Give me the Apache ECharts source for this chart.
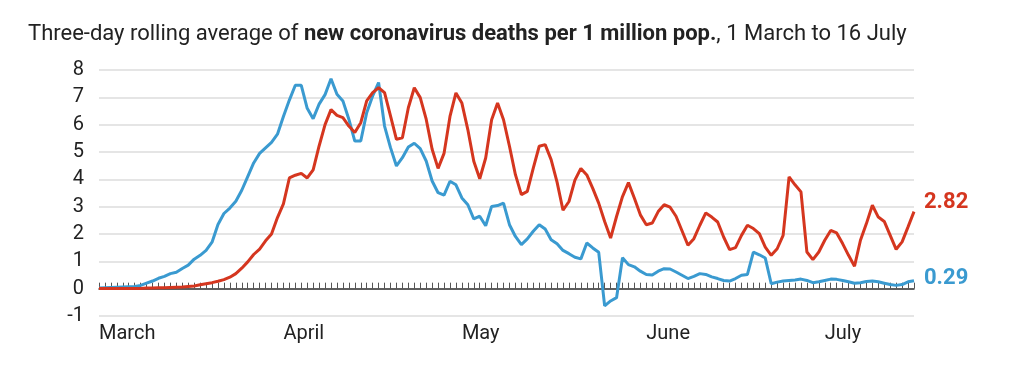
<!DOCTYPE html>
<html>
<head>
<meta charset="utf-8">
<script src="https://cdn.jsdelivr.net/npm/echarts@6/dist/echarts.min.js"></script>
<style>
html,body{margin:0;padding:0;background:#fff;}
#chart{width:1024px;height:373px;}
</style>
</head>
<body>
<div id="chart"></div>
<script>
// Days from 1 March to 16 July
const startDate = [2020, 2, 1];
const dayCount = 138;
const monthLabels = { 0: 'March', 31: 'April', 61: 'May', 92: 'June', 122: 'July' };

const redSeries = [
  0.01, 0.01, 0.01, 0.01, 0.01, 0.01, 0.01, 0.01, 0.02, 0.02,
  0.03, 0.03, 0.04, 0.05, 0.06, 0.08, 0.10, 0.14, 0.18, 0.22,
  0.27, 0.33, 0.42, 0.55, 0.75, 0.98, 1.25, 1.45, 1.75, 2.00,
  2.60, 3.10, 4.05, 4.15, 4.22, 4.05, 4.35, 5.22, 6.00, 6.55,
  6.34, 6.26, 5.95, 5.71, 6.07, 6.87, 7.17, 7.35, 7.17, 6.32,
  5.46, 5.52, 6.62, 7.35, 6.99, 6.20, 5.10, 4.40, 4.95, 6.30,
  7.16, 6.79, 5.82, 4.66, 4.02, 4.78, 6.18, 6.79, 6.18, 5.21,
  4.17, 3.44, 3.56, 4.41, 5.21, 5.27, 4.72, 3.90, 2.87, 3.19,
  3.97, 4.40, 4.16, 3.67, 3.13, 2.46, 1.85, 2.64, 3.37, 3.88,
  3.31, 2.70, 2.34, 2.40, 2.82, 3.07, 2.98, 2.65, 2.12, 1.59,
  1.83, 2.32, 2.77, 2.62, 2.44, 1.89, 1.43, 1.50, 1.95, 2.32,
  2.20, 2.01, 1.52, 1.22, 1.46, 1.95, 4.09, 3.80, 3.54, 1.34,
  1.06, 1.34, 1.77, 2.13, 2.04, 1.65, 1.22, 0.82, 1.77, 2.38,
  3.05, 2.62, 2.46, 1.95, 1.44, 1.71, 2.26, 2.82
];

const blueSeries = [
  0.02, 0.03, 0.04, 0.05, 0.06, 0.07, 0.08, 0.12, 0.20, 0.28,
  0.38, 0.45, 0.55, 0.60, 0.74, 0.86, 1.08, 1.22, 1.40, 1.70,
  2.35, 2.75, 2.95, 3.20, 3.60, 4.10, 4.60, 4.95, 5.15, 5.35,
  5.65, 6.30, 6.90, 7.44, 7.44, 6.60, 6.22, 6.75, 7.10, 7.68,
  7.11, 6.87, 6.20, 5.40, 5.40, 6.44, 7.05, 7.54, 5.95, 5.16,
  4.49, 4.79, 5.18, 5.32, 5.12, 4.67, 3.94, 3.51, 3.42, 3.93,
  3.80, 3.32, 3.07, 2.55, 2.65, 2.30, 3.01, 3.04, 3.13, 2.34,
  1.91, 1.61, 1.82, 2.10, 2.34, 2.18, 1.79, 1.64, 1.40, 1.28,
  1.15, 1.09, 1.67, 1.49, 1.33, -0.63, -0.45, -0.33, 1.13, 0.88,
  0.80, 0.64, 0.52, 0.50, 0.64, 0.73, 0.72, 0.61, 0.49, 0.37,
  0.45, 0.55, 0.52, 0.43, 0.37, 0.30, 0.28, 0.37, 0.49, 0.52,
  1.34, 1.24, 1.12, 0.18, 0.24, 0.28, 0.30, 0.32, 0.35, 0.30,
  0.22, 0.25, 0.30, 0.35, 0.34, 0.30, 0.25, 0.20, 0.22, 0.26,
  0.28, 0.25, 0.20, 0.15, 0.12, 0.15, 0.25, 0.29
];

const yTicks = { min: -1, max: 8, interval: 1 };
const redColor = '#d5361f';
const blueColor = '#3a9ad0';

const categories = [];
for (let i = 0; i < dayCount; i++) {
  const d = new Date(startDate[0], startDate[1], startDate[2] + i);
  categories.push(d.getFullYear() + '-' + (d.getMonth() + 1) + '-' + d.getDate());
}

const fontFamily = 'Roboto, "Liberation Sans", sans-serif';
const chart = echarts.init(document.getElementById('chart'), null, { renderer: 'canvas' });
chart.setOption({
  animation: false,
  backgroundColor: '#fff',
  textStyle: { fontFamily: fontFamily },
  title: {
    left: 23, top: 18,
    text: '{n|Three-day rolling average of }{b|new coronavirus deaths per 1 million pop.}{n|, 1 March to 16 July}',
    textStyle: {
      fontWeight: 'normal',
      rich: {
        n: { fontSize: 22, color: '#222', fontWeight: 'normal', fontFamily: fontFamily },
        b: { fontSize: 22, color: '#222', fontWeight: 'bold', fontFamily: fontFamily }
      }
    }
  },
  grid: { left: 99, right: 110, top: 70, bottom: 57, containLabel: false },
  xAxis: {
    type: 'category',
    data: categories,
    boundaryGap: false,
    axisLine: { onZero: true, lineStyle: { color: '#333', width: 1.5 } },
    axisTick: { show: true, inside: true, length: 6, interval: 0, lineStyle: { color: '#555', width: 1 } },
    axisLabel: {
      interval: 0,
      margin: 8,
      align: 'left',
      fontSize: 20,
      color: '#222',
      formatter: function (v, idx) { return monthLabels[idx] !== undefined ? monthLabels[idx] : ''; }
    },
    splitLine: { show: false }
  },
  yAxis: {
    type: 'value',
    min: yTicks.min, max: yTicks.max, interval: yTicks.interval,
    axisLine: { show: false },
    axisTick: { show: false },
    axisLabel: { fontSize: 20, color: '#222', margin: 15 },
    splitLine: { lineStyle: { color: '#dcdcdc', width: 1.5 } }
  },
  series: [
    {
      name: 'red', type: 'line', data: redSeries, showSymbol: false, symbol: 'none',
      lineStyle: { color: redColor, width: 3 }, itemStyle: { color: redColor },
      endLabel: { show: true, formatter: function (p) { return p.value.toFixed(2); }, color: redColor, fontSize: 22, fontWeight: 'bold', distance: 10, offset: [0, -9] },
      z: 3
    },
    {
      name: 'blue', type: 'line', data: blueSeries, showSymbol: false, symbol: 'none',
      lineStyle: { color: blueColor, width: 3 }, itemStyle: { color: blueColor },
      endLabel: { show: true, formatter: function (p) { return p.value.toFixed(2); }, color: blueColor, fontSize: 22, fontWeight: 'bold', distance: 10, offset: [0, -2] },
      z: 2
    }
  ]
});
</script>
</body>
</html>
